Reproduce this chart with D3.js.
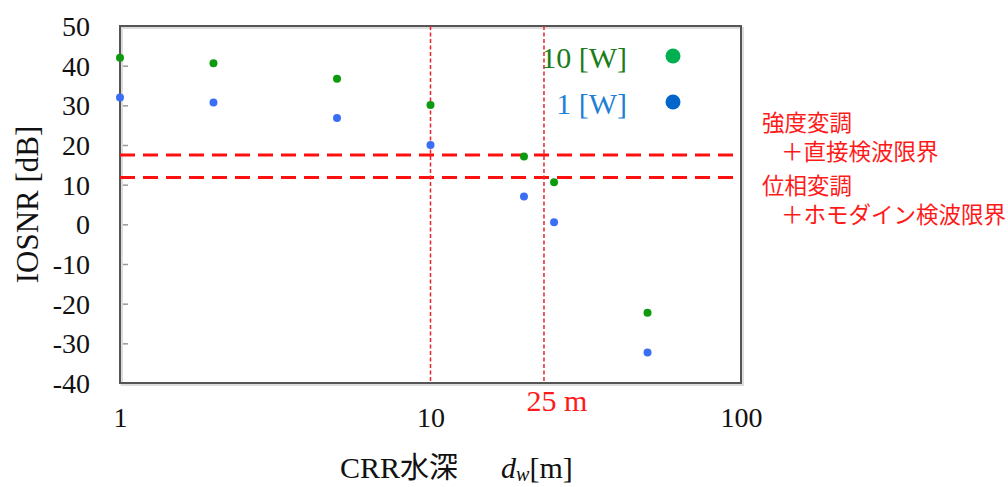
<!DOCTYPE html>
<html>
<head>
<meta charset="utf-8">
<script src="https://cdn.jsdelivr.net/npm/d3@7"></script>
<style>
  body { margin: 0; background: #fff; }
  svg { display: block; }
  .tick text { font-family: "Liberation Serif", "DejaVu Serif", serif; }
</style>
</head>
<body>
<svg id="chart" width="1008" height="487"></svg>
<script>
// water depth [m]
const depths = [1, 2, 5, 10, 20, 25, 50];
// IOSNR [dB] for each launch power
const iosnr10W = [42, 40.6, 36.7, 30.1, 17.1, 10.6, -22.3];
const iosnr1W = [32, 30.7, 26.8, 20.0, 7.0, 0.5, -32.3];

const yTicks = [50, 40, 30, 20, 10, 0, -10, -20, -30, -40];
const xTicks = [1, 10, 100];

// detection limits [dB] and marker depths [m]
const limits = [17.5, 11.8];
const limitLabels = [["強度変調", "＋直接検波限界"], ["位相変調", "＋ホモダイン検波限界"]];
const vLines = [10, 23.2];

const legendItems = [
    { label: '10 [W]', text: '#1a7d1a', dot: '#00b050' },
    { label: '1 [W]', text: '#1f7fd4', dot: '#0066cc' },
];

const svg = d3.select('#chart');
const [pLeft, pRight, pTop, pBottom] = [120, 741, 26, 383];

const x = d3.scaleLog().domain([1, 100]).range([pLeft, pRight]);
const y = d3.scaleLinear().domain([-40, 50]).range([pBottom, pTop]);

// y axis, ticks pointing inward, plain hyphen for minus
const yAxis = svg.append('g')
    .attr('transform', `translate(${pLeft},0)`)
    .call(d3.axisLeft(y).tickValues(yTicks).tickFormat(d => String(d))
        .tickSizeInner(-8).tickSizeOuter(0).tickPadding(30));
yAxis.select('.domain').remove();
yAxis.selectAll('.tick line').attr('stroke', '#999').attr('stroke-width', 1.5);
yAxis.selectAll('.tick text').attr('font-size', 28).attr('fill', '#111').attr('dy', '0.34em');

// x axis labels only
const xAxis = svg.append('g')
    .attr('transform', `translate(0,${pBottom})`)
    .call(d3.axisBottom(x).tickValues(xTicks).tickFormat(d3.format('d')).tickSize(0).tickPadding(24));
xAxis.select('.domain').remove();
xAxis.selectAll('.tick text').attr('font-size', 28).attr('fill', '#111');

// frame
svg.append('rect')
    .attr('x', pLeft + 2).attr('y', pTop + 2)
    .attr('width', pRight - pLeft).attr('height', pBottom - pTop)
    .attr('fill', 'none').attr('stroke', '#ddd').attr('stroke-width', 2);
svg.append('rect')
    .attr('x', pLeft).attr('y', pTop)
    .attr('width', pRight - pLeft).attr('height', pBottom - pTop)
    .attr('fill', 'none').attr('stroke', '#555').attr('stroke-width', 2);

// horizontal detection limits
svg.selectAll('.limit')
    .data(limits)
    .enter()
    .append('line')
    .attr('x1', pLeft).attr('x2', pRight)
    .attr('y1', d => y(d)).attr('y2', d => y(d))
    .attr('stroke', '#ff1010').attr('stroke-width', 3)
    .attr('stroke-dasharray', '15,8');

// vertical depth markers
svg.selectAll('.vline')
    .data(vLines)
    .enter()
    .append('line')
    .attr('x1', d => x(d)).attr('x2', d => x(d))
    .attr('y1', pTop).attr('y2', pBottom)
    .attr('stroke', '#e8232a').attr('stroke-width', 1.5)
    .attr('stroke-dasharray', '4,2.5');

// data points
const series = [
    { values: iosnr10W, color: '#0e9a0e' },
    { values: iosnr1W, color: '#3a6ff5' },
];
series.forEach((s) => {
    svg.append('g')
        .selectAll('circle')
        .data(depths.map((d, i) => [d, s.values[i]]))
        .enter()
        .append('circle')
        .attr('cx', d => x(d[0]))
        .attr('cy', d => y(d[1]))
        .attr('r', 4)
        .attr('fill', s.color);
});

// legend
legendItems.forEach((item, i) => {
    const ly = 58 + i * 46;
    svg.append('text')
        .attr('x', 627).attr('y', ly).attr('dy', '0.34em')
        .attr('text-anchor', 'end')
        .attr('font-family', '"Liberation Serif", serif')
        .attr('font-size', 30)
        .attr('fill', item.text)
        .text(item.label);
    svg.append('circle')
        .attr('cx', 673).attr('cy', ly - 2).attr('r', 7.5)
        .attr('fill', item.dot);
});

// limit annotations
limitLabels.forEach((lines, i) => {
    const base = 123 + i * 63;
    lines.forEach((t, j) => {
        svg.append('text')
            .attr('x', j === 0 ? 762 : 781)
            .attr('y', base + j * 29)
            .attr('dy', '0.36em')
            .attr('font-family', '"Noto Sans CJK JP", sans-serif')
            .attr('font-size', 22.5)
            .attr('fill', '#ff1a1a')
            .text(t);
    });
});

// 25 m label
svg.append('text')
    .attr('x', x(vLines[1]) + 13).attr('y', 401).attr('dy', '0.34em')
    .attr('text-anchor', 'middle')
    .attr('font-family', '"Liberation Serif", serif')
    .attr('font-size', 30)
    .attr('fill', '#ff1a1a')
    .text('25 m');

// axis titles
svg.append('text')
    .attr('transform', `translate(38,${(pTop + pBottom) / 2}) rotate(-90)`)
    .attr('text-anchor', 'middle')
    .attr('font-family', '"Liberation Serif", serif')
    .attr('font-size', 31)
    .attr('fill', '#111')
    .text('IOSNR [dB]');

const xTitle = svg.append('text')
    .attr('x', 340).attr('y', 478)
    .attr('font-family', '"Liberation Serif", serif')
    .attr('font-size', 30)
    .attr('fill', '#111');
xTitle.append('tspan').text('CRR');
xTitle.append('tspan').attr('font-family', '"Noto Sans CJK JP", sans-serif').attr('font-size', 29).text('水深　');
xTitle.append('tspan').attr('dx', 14).attr('font-style', 'italic').text('d');
xTitle.append('tspan').attr('font-style', 'italic').attr('font-size', 20).attr('dy', 3).text('w');
xTitle.append('tspan').attr('dy', -3).text('[m]');
</script>
</body>
</html>
